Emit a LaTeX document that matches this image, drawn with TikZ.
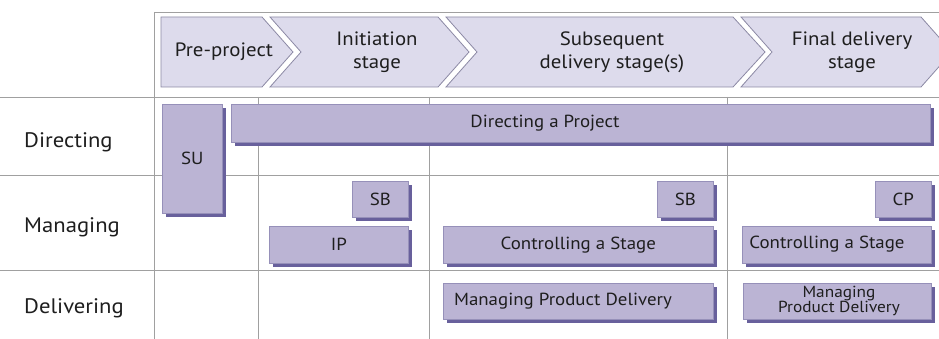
\documentclass[tikz,border=0pt]{standalone}
\usepackage{fontspec}
\setmainfont[FakeStretch=1.08]{PT Sans}
\usetikzlibrary{shadows}
\definecolor{boxfill}{RGB}{187,180,212}
\definecolor{boxline}{RGB}{150,144,185}
\definecolor{shadowc}{RGB}{104,96,156}
\definecolor{chevfill}{RGB}{221,219,236}
\definecolor{chevline}{RGB}{140,137,165}
\definecolor{gridc}{RGB}{160,160,160}
\definecolor{textc}{RGB}{30,30,30}
\begin{document}
\begin{tikzpicture}[x=1pt,y=-1pt,
  gridline/.style={draw=gridc, line width=0.9pt},
  chev/.style={fill=chevfill, draw=chevline, line width=0.8pt, line join=miter},
  chevtext/.style={text=textc, font=\fontsize{19.3}{23}\selectfont, align=center, inner sep=0pt},
  rowlabel/.style={text=textc, font=\fontsize{21}{26}\selectfont, anchor=base west, inner sep=0pt},
  box/.style={fill=boxfill, draw=boxline, line width=0.6pt, inner sep=0pt, anchor=north west,
    text=textc, font=\fontsize{17.5}{19}\selectfont,
    general shadow={fill=shadowc, shadow xshift=4pt, shadow yshift=-4pt}},
  boxtext/.style={text=textc, font=\fontsize{17.5}{19}\selectfont, inner sep=0pt, align=center},
  smalltext/.style={text=textc, font=\fontsize{16}{15.5}\selectfont, inner sep=0pt, align=center}]
\useasboundingbox (0,0) rectangle (939,339);
\fill[white] (0,0) rectangle (939,339);
% grid
\draw[gridline] (154,12) -- (939,12);
\draw[gridline] (154,12) -- (154,339);
\draw[gridline] (0,97) -- (939,97);
\draw[gridline] (0,175) -- (939,175);
\draw[gridline] (0,270) -- (939,270);
\draw[gridline] (258,97) -- (258,339);
\draw[gridline] (429,97) -- (429,339);
\draw[gridline] (727,97) -- (727,339);
% chevrons
\draw[chev] (161,17) -- (262,17) -- (293,52) -- (262,87) -- (161,87) -- cycle;
\draw[chev] (270,17) -- (438,17) -- (469,52) -- (438,87) -- (270,87) -- (301,52) -- cycle;
\draw[chev] (446,17) -- (733,17) -- (765,52) -- (733,87) -- (446,87) -- (477,52) -- cycle;
\draw[chev] (741,17) -- (921,17) -- (952,52) -- (921,87) -- (741,87) -- (772,52) -- cycle;
\node[chevtext] (t1) at (224,52) {Pre-project};
\node[chevtext] (t2) at (377,52) {Initiation\\stage};
\node[chevtext] (t3) at (612,52) {Subsequent\\delivery stage(s)};
\node[chevtext] (t4) at (852,52) {Final delivery\\stage};
% row labels
\node[rowlabel] (rd) at (24,148) {Directing};
\node[rowlabel] (rm) at (24,233) {Managing};
\node[rowlabel] (rv) at (24,313) {Delivering};
% boxes
\node[box, minimum width=60pt, minimum height=109pt] (su) at (162,104) {SU};
\node[box, minimum width=699pt, minimum height=38pt] (dap) at (231,104) {};
\node[boxtext] (dapt) at (545,123) {Directing a Project};
\node[box, minimum width=56pt, minimum height=36pt] (sb1) at (352,181) {SB};
\node[box, minimum width=139pt, minimum height=37pt] (ip) at (269,226) {IP};
\node[box, minimum width=56pt, minimum height=36pt] (sb2) at (657,181) {SB};
\node[box, minimum width=270pt, minimum height=37pt] (cs1) at (443,226) {Controlling a Stage};
\node[box, minimum width=56pt, minimum height=36pt] (cp) at (875,181) {CP};
\node[box, minimum width=189pt, minimum height=37pt] (cs2) at (742,226) {};
\node[boxtext] (cs2t) at (827,244.5) {Controlling a Stage};
\node[box, minimum width=270pt, minimum height=36pt] (mpd1) at (443,283) {};
\node[boxtext] (mpd1t) at (563,301) {Managing Product Delivery};
\node[box, minimum width=188pt, minimum height=36pt] (mpd2) at (743,283) {};
\node[smalltext] (mpd2t) at (839,301) {Managing\\Product Delivery};
\end{tikzpicture}
\end{document}
